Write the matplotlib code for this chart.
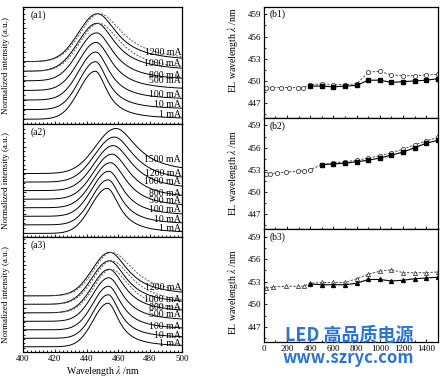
import numpy as np
import matplotlib.pyplot as plt
from matplotlib.ticker import MultipleLocator, NullFormatter

plt.rcParams['font.family'] = ['Liberation Serif', 'DejaVu Serif']
plt.rcParams['mathtext.fontset'] = 'stix'

# ---- spectra (a1-a3): one entry per drive current, bottom curve first ----
a1_labels = ['1 mA', '10 mA', '100 mA', '500 mA', '800 mA', '1000 mA', '1200 mA']
a1_peak = [445.5, 445.6, 445.8, 446.0, 446.3, 446.6, 446.9]
a1_left_hw = [12.0, 12.0, 12.5, 13.0, 13.5, 14.0, 14.0]
a1_right_hw = [9.0, 9.5, 10.5, 12.0, 13.0, 14.0, 15.0]
a1_dashed = [0, 0, 0, 0, 0, 1, 1]

a2_labels = ['1 mA', '10 mA', '100 mA', '500 mA', '800 mA', '1000 mA', '1200 mA', '1500 mA']
a2_peak = [453.0, 453.5, 454.0, 455.0, 456.0, 456.8, 457.5, 458.5]
a2_left_hw = [12.0, 12.0, 12.5, 13.0, 13.5, 14.0, 14.5, 15.0]
a2_right_hw = [9.5, 10.0, 11.0, 12.5, 13.5, 14.5, 15.0, 16.0]
a2_dashed = [0, 0, 0, 0, 0, 0, 0, 0]

a3_labels = ['1 mA', '10 mA', '100 mA', '500 mA', '800 mA', '1000 mA', '1200 mA']
a3_peak = [453.5, 453.6, 453.8, 454.0, 454.2, 454.4, 454.6]
a3_left_hw = [11.0, 11.0, 11.5, 12.0, 12.5, 13.0, 13.0]
a3_right_hw = [8.5, 9.0, 10.0, 11.0, 12.0, 13.0, 14.0]
a3_dashed = [0, 0, 0, 0, 1, 1, 1]

# ---- EL peak wavelength vs current (b1-b3) ----
b1_open_x = [15, 70, 145, 215, 295, 340, 400, 500, 600, 700, 800, 900, 1000, 1100, 1200, 1300, 1400, 1500]
b1_open_y = [449.0, 449.1, 449.1, 449.1, 449.1, 449.1, 449.5, 449.6, 449.5, 449.5, 449.6,
             451.2, 451.3, 450.8, 450.7, 450.7, 450.8, 450.9]
b1_fill_x = [400, 500, 600, 700, 800, 900, 1000, 1100, 1200, 1300, 1400, 1500]
b1_fill_y = [449.3, 449.3, 449.2, 449.3, 449.4, 450.1, 450.1, 449.8, 449.9, 450.0, 450.1, 450.3]

b2_open_x = [15, 55, 115, 190, 295, 345, 395, 500, 600, 700, 800, 900, 1000, 1100, 1200, 1300, 1400, 1500]
b2_open_y = [452.4, 452.5, 452.6, 452.7, 452.8, 452.9, 453.0, 453.7, 453.9, 454.1, 454.3,
             454.6, 454.9, 455.3, 455.8, 456.4, 456.9, 457.4]
b2_fill_x = [500, 600, 700, 800, 900, 1000, 1100, 1200, 1300, 1400, 1500]
b2_fill_y = [453.7, 453.8, 453.9, 454.1, 454.3, 454.6, 455.0, 455.4, 456.0, 456.6, 457.0]

b3_open_x = [20, 80, 190, 290, 345, 400, 500, 600, 700, 800, 900, 1000, 1100, 1200, 1300, 1400, 1500]
b3_open_y = [452.2, 452.3, 452.4, 452.4, 452.4, 452.8, 452.9, 452.9, 452.9, 453.4,
             454.0, 454.4, 454.6, 454.2, 454.2, 454.2, 454.3]
b3_fill_x = [400, 500, 600, 700, 800, 900, 1000, 1100, 1200, 1300, 1400, 1500]
b3_fill_y = [452.7, 452.6, 452.6, 452.6, 452.8, 453.3, 453.3, 453.1, 453.2, 453.4, 453.5, 453.6]


def line_shape(wl, peak, left_hw, right_hw):
    d = wl - peak
    left = np.exp(-np.log(2) * (d / left_hw) ** 2)
    right = 1.0 / (1.0 + (d / right_hw) ** 2)
    return np.where(d < 0, left, right)


fig = plt.figure(figsize=(4.45, 3.78), dpi=100)

wl = np.linspace(400, 500, 500)
a_panels = [
    ('(a1)', a1_labels, a1_peak, a1_left_hw, a1_right_hw, a1_dashed,
     [0.20, 0.41, 0.62, 0.90, 1.02, 1.26, 1.49], 0.10, 0.20, 2.44, [0.672, 0.3095]),
    ('(a2)', a2_labels, a2_peak, a2_left_hw, a2_right_hw, a2_dashed,
     [0.19, 0.39, 0.60, 0.81, 0.97, 1.23, 1.41, 1.73], 0.08, 0.19, 2.51, [0.373, 0.299]),
    ('(a3)', a3_labels, a3_peak, a3_left_hw, a3_right_hw, a3_dashed,
     [0.20, 0.39, 0.58, 0.85, 1.02, 1.21, 1.49], 0.12, 0.195, 2.64, [0.0688, 0.304]),
]

for i, (tag, labels, peaks, lhw, rhw, dashed, lab_y, base, step, top, box) in enumerate(a_panels):
    ax = fig.add_axes([0.0517, box[0], 0.357, box[1]])
    for k in range(len(labels)):
        off = base + step * k
        ax.plot(wl, off + line_shape(wl, peaks[k], lhw[k], rhw[k]), color='k', lw=0.7)
        if dashed[k]:
            ax.plot(wl, off + line_shape(wl, peaks[k] + 1.2, lhw[k], rhw[k] + 3),
                    color='0.35', lw=0.7, ls=(0, (2, 1.5)))
        ax.text(499.5, lab_y[k], labels[k], ha='right', va='center', fontsize=7)
    ax.set_xlim(400, 500)
    ax.set_ylim(0, top)
    ax.xaxis.set_major_locator(MultipleLocator(20))
    ax.xaxis.set_minor_locator(MultipleLocator(2.5))
    ax.yaxis.set_major_locator(MultipleLocator(0.5))
    ax.yaxis.set_minor_locator(MultipleLocator(0.1))
    ax.yaxis.set_major_formatter(NullFormatter())
    ax.tick_params(which='both', direction='in', width=0.6, labelsize=6.5, pad=2)
    ax.tick_params(which='major', length=2.5)
    ax.tick_params(which='minor', length=1.5)
    if i < 2:
        ax.xaxis.set_major_formatter(NullFormatter())
    else:
        ax.set_xlabel('Wavelength $\\lambda$ /nm', fontsize=7, labelpad=1)
    ax.set_ylabel('Normalized intensity (a.u.)', fontsize=6.5)
    ax.yaxis.set_label_coords(-0.085, 0.5)
    ax.text(0.045, 0.93, tag, transform=ax.transAxes, ha='left', va='center', fontsize=7)
    for s in ax.spines.values():
        s.set_linewidth(0.9)

b_panels = [
    ('(b1)', b1_open_x, b1_open_y, b1_fill_x, b1_fill_y, 'o', 's', [0.688, 0.2937], 0.61),
    ('(b2)', b2_open_x, b2_open_y, b2_fill_x, b2_fill_y, 'o', 's', [0.394, 0.2937], 0.5),
    ('(b3)', b3_open_x, b3_open_y, b3_fill_x, b3_fill_y, '^', '^', [0.0952, 0.299], 0.44),
]

for i, (tag, ox, oy, fx, fy, om, fm, box, ylab) in enumerate(b_panels):
    ax = fig.add_axes([0.593, box[0], 0.391, box[1]])
    ax.plot(ox, oy, ls=(0, (2.5, 1.5)), color='0.3', lw=0.7, marker=om, ms=3,
            mfc='white', mec='0.25', mew=0.6)
    ax.plot(fx, fy, ls='-', color='k', lw=0.8, marker=fm, ms=2.8, mfc='k', mec='k')
    ax.set_xlim(0, 1500)
    ax.set_ylim(445, 460)
    ax.set_yticks([447, 450, 453, 456, 459])
    ax.xaxis.set_major_locator(MultipleLocator(200))
    ax.xaxis.set_minor_locator(MultipleLocator(100))
    ax.yaxis.set_minor_locator(MultipleLocator(1.5))
    ax.tick_params(which='both', direction='in', width=0.6, labelsize=6.5, pad=2)
    ax.tick_params(which='major', length=2.5)
    ax.tick_params(which='minor', length=1.5)
    if i < 2:
        ax.xaxis.set_major_formatter(NullFormatter())
    ax.set_ylabel('EL wavelength $\\lambda$ /nm', fontsize=7)
    ax.yaxis.set_label_coords(-0.135, ylab)
    ax.text(0.035, 0.93, tag, transform=ax.transAxes, ha='left', va='center', fontsize=7)
    for s in ax.spines.values():
        s.set_linewidth(0.9)

# watermark from the source image
fig.text(0.784, 0.1124, 'LED 高品质电源', ha='center', va='center', fontsize=13,
         fontweight='bold', color='#2a74d6', family=['Noto Sans CJK SC', 'DejaVu Sans'])
fig.text(0.782, 0.0516, 'www.szryc.com', ha='center', va='center', fontsize=12,
         fontweight='bold', color='#2a74d6', family=['Noto Sans CJK SC', 'DejaVu Sans'])

fig.savefig('out.png', dpi=100)
